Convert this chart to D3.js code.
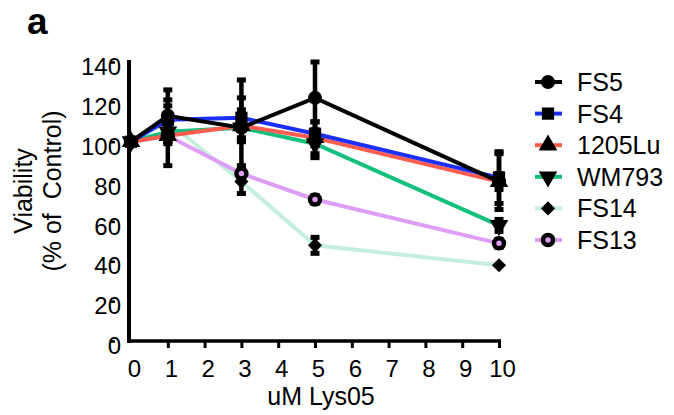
<!DOCTYPE html>
<html>
<head>
<meta charset="utf-8">
<script src="https://cdn.jsdelivr.net/npm/d3@7"></script>
<style>
  body { margin: 0; background: #fff; }
  text { font-family: "Liberation Sans", Arial, sans-serif; }
</style>
</head>
<body>
<div id="chart"></div>
<script>
// data
const doses = [0, 1, 3, 5, 10];
const xTicks = [0, 1, 2, 3, 4, 5, 6, 7, 8, 9, 10];
const yTicks = [0, 20, 40, 60, 80, 100, 120, 140];

const seriesNames = ['FS5', 'FS4', '1205Lu', 'WM793', 'FS14', 'FS13'];
const seriesColors = ['#000000', '#1a2eff', '#ff5c50', '#14c07c', '#c4efdc', '#df9ef5'];
const seriesSymbols = ['circle', 'square', 'triangle', 'triangleDown', 'diamond', 'ring'];

const fs5 = [100, 113, 107, 122, 80];
const fs4 = [100, 111, 112, 104, 82];
const lu1205 = [100, 103, 108, 102, 80];
const wm793 = [100, 105, 107, 99, 58];
const fs14 = [100, 110, 80, 48, 38];
const fs13 = [100, 103, 84, 71, 49];

const fs5Err = [0, 13, 24, 18, 4];
const fs4Err = [0, 10, 10, 6, 13];
const lu1205Err = [0, 15, 8, 8, 14];
const wm793Err = [0, 5, 6, 7, 3];
const fs14Err = [0, 3, 6, 4, 0];
const fs13Err = [0, 4, 4, 2, 2];

const values = [fs5, fs4, lu1205, wm793, fs14, fs13];
const errors = [fs5Err, fs4Err, lu1205Err, wm793Err, fs14Err, fs13Err];

const width = 674;
const height = 415;

const svg = d3.select('#chart')
  .append('svg')
  .attr('width', width)
  .attr('height', height);

const x = d3.scaleLinear().domain([0, 10]).range([131, 499]);
const y = d3.scaleLinear().domain([0, 140]).range([341, 62]);

// panel letter
svg.append('text')
  .text('a')
  .attr('x', 27)
  .attr('y', 34)
  .style('font-size', '37px')
  .style('font-weight', 'bold');

// y axis
const yAxis = svg.append('g')
  .attr('transform', 'translate(129,0)')
  .call(d3.axisLeft(y).tickValues(yTicks).tickSize(0).tickPadding(8));
yAxis.select('.domain').remove();
yAxis.selectAll('.tick text')
  .attr('y', 5)
  .style('font-size', '24px')
  .style('font-family', '"Liberation Sans", Arial, sans-serif')
  .attr('fill', '#000');
yAxis.selectAll('.tick')
  .append('line')
  .attr('x1', -19)
  .attr('x2', -14)
  .attr('stroke', '#000')
  .attr('stroke-width', 2.5);

svg.append('line')
  .attr('x1', 129).attr('x2', 129)
  .attr('y1', y(140) - 2).attr('y2', y(0) + 2)
  .attr('stroke', '#000')
  .attr('stroke-width', 4);

// x axis
const xAxis = svg.append('g')
  .attr('transform', 'translate(0,' + y(0) + ')')
  .call(d3.axisBottom(x).tickValues(xTicks).tickSize(7).tickPadding(12));
xAxis.select('.domain').remove();
xAxis.selectAll('.tick line')
  .attr('stroke', '#000')
  .attr('stroke-width', 3)
  .attr('display', d => (d === 0 ? 'none' : null));
xAxis.selectAll('.tick text')
  .attr('x', 3)
  .style('font-size', '24px')
  .style('font-family', '"Liberation Sans", Arial, sans-serif')
  .attr('fill', '#000');

svg.append('line')
  .attr('x1', 130).attr('x2', x(10) + 2)
  .attr('y1', y(0)).attr('y2', y(0))
  .attr('stroke', '#000')
  .attr('stroke-width', 3.5);

// axis titles
svg.append('text')
  .text('uM Lys05')
  .attr('x', 321)
  .attr('y', 405)
  .attr('text-anchor', 'middle')
  .style('font-size', '25px');

const yTitle = svg.append('text')
  .attr('transform', 'translate(0,191) rotate(-90)')
  .attr('text-anchor', 'middle')
  .style('font-size', '25px');
yTitle.append('tspan').attr('x', 0).attr('y', 32).text('Viability');
yTitle.append('tspan').attr('x', 0).attr('y', 61).style('white-space', 'pre').text('(% of  Control)');

// marker drawing
function drawMarker(g, type, cx, cy, color) {
  if (type === 'circle') {
    g.append('circle').attr('cx', cx).attr('cy', cy).attr('r', 7).attr('fill', '#000');
  } else if (type === 'ring') {
    g.append('circle').attr('cx', cx).attr('cy', cy).attr('r', 5)
      .attr('fill', color).attr('stroke', '#000').attr('stroke-width', 4.5);
  } else {
    const sym = {
      square: d3.symbolSquare,
      triangle: d3.symbolTriangle,
      triangleDown: d3.symbolTriangle,
      diamond: d3.symbolSquare
    }[type];
    const size = type === 'diamond' ? 100 : 150;
    let rot = '';
    if (type === 'triangleDown') rot = ' rotate(180)';
    if (type === 'diamond') rot = ' rotate(45)';
    g.append('path')
      .attr('d', d3.symbol().type(sym).size(size)())
      .attr('transform', 'translate(' + cx + ',' + cy + ')' + rot)
      .attr('fill', '#000');
  }
}

const line = d3.line()
  .x((d, i) => x(doses[i]))
  .y(d => y(d));

// lines, back to front
const order = [4, 5, 3, 2, 1, 0];
order.forEach(s => {
  svg.append('path')
    .datum(values[s])
    .attr('d', line)
    .attr('fill', 'none')
    .attr('stroke', seriesColors[s])
    .attr('stroke-width', 4);
});

// error bars
order.forEach(s => {
  const g = svg.append('g');
  values[s].forEach((v, i) => {
    const e = errors[s][i];
    if (e <= 0) return;
    const cx = x(doses[i]);
    g.append('line')
      .attr('x1', cx).attr('x2', cx)
      .attr('y1', y(v + e)).attr('y2', y(v - e))
      .attr('stroke', '#000').attr('stroke-width', 4.5);
    [v + e, v - e].forEach(c => {
      g.append('rect')
        .attr('x', cx - 4.5).attr('y', y(c) - 2.5)
        .attr('width', 9).attr('height', 5)
        .attr('fill', '#000');
    });
  });
});

// markers
order.forEach(s => {
  const g = svg.append('g');
  values[s].forEach((v, i) => {
    drawMarker(g, seriesSymbols[s], x(doses[i]), y(v), seriesColors[s]);
  });
});

// legend
const legend = svg.append('g');
seriesNames.forEach((name, s) => {
  const ly = 82 + s * 31.6;
  legend.append('line')
    .attr('x1', 535).attr('x2', 562)
    .attr('y1', ly).attr('y2', ly)
    .attr('stroke', seriesColors[s])
    .attr('stroke-width', 4);
  drawMarker(legend, seriesSymbols[s], 548, ly, seriesColors[s]);
  legend.append('text')
    .text(name)
    .attr('x', 577)
    .attr('y', ly + 9)
    .style('font-size', '25px');
});
</script>
</body>
</html>
